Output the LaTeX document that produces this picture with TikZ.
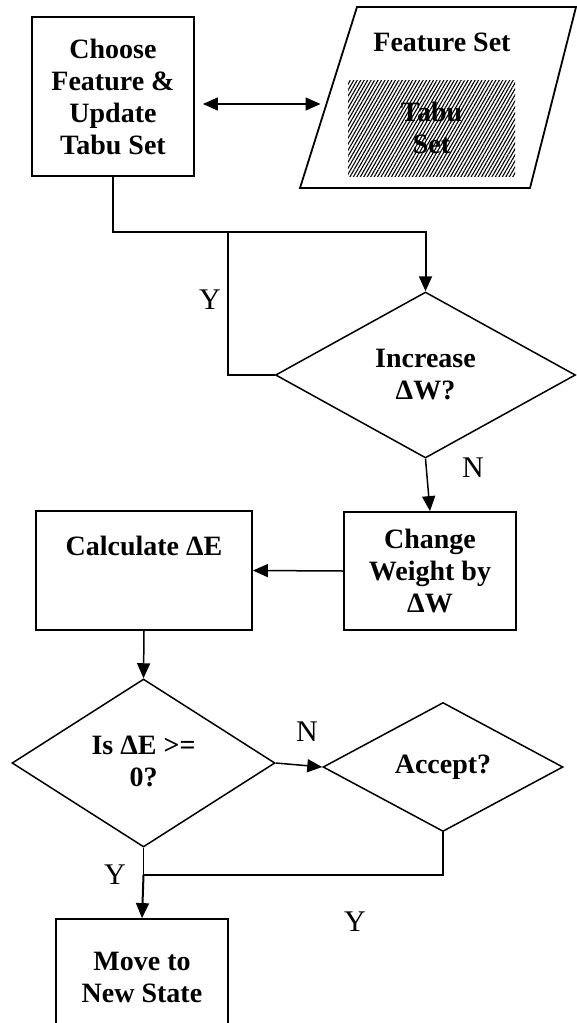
\documentclass[tikz,border=0pt]{standalone}
\usepackage{fontspec}
\setmainfont{Liberation Serif}
\usetikzlibrary{shapes.geometric,arrows.meta,patterns.meta}
\begin{document}
\begin{tikzpicture}[x=1pt,y=-1pt,
  bfont/.style={font=\fontsize{28}{32}\selectfont\bfseries},
  box/.style={draw,line width=1.8pt,rectangle,inner sep=0pt,align=center,bfont},
  dec/.style={draw,line width=1.5pt,diamond,inner sep=0pt,align=center,bfont},
  conn/.style={line width=1.5pt},
  tip/.style={-{Triangle[length=15pt,width=13pt]}},
  arr/.style={conn,tip},
  lbl/.style={font=\fontsize{30}{34}\selectfont,inner sep=0pt}]
\clip (0,0) rectangle (577,1023);
\fill[white] (0,0) rectangle (577,1023);

% top row
\node[box,minimum width=162pt,minimum height=159pt] (choose) at (113,96.5) {Choose\\Feature \&\\Update\\Tabu Set};
\draw[line width=1.8pt] (357,7) coordinate (p1) -- (576,7) coordinate (p2) -- (530,188) coordinate (p3) -- (300,188) coordinate (p4) -- cycle;
\coordinate (pleft) at (326.5,104);
\node[bfont,inner sep=0pt] (fs) at (442,42) {Feature Set};
\node[pattern={Lines[angle=60,distance=3pt,line width=1.1pt]},minimum width=167pt,minimum height=96pt,inner sep=0pt,align=center,bfont] (tabu) at (431.5,128) {Tabu\\Set};
\draw[conn,{Triangle[length=15pt,width=13pt]}-{Triangle[length=15pt,width=13pt]},shorten <=8pt,shorten >=6pt] (choose.east |- pleft) -- (pleft);

% increase diamond
\node[dec,minimum width=300pt,minimum height=166pt] (inc) at (425.5,375) {Increase\\ΔW?};
\coordinate (j1) at (113,232);
\coordinate (j2) at (228,232);
\draw[line width=2pt,tip] (choose.south) -- (j1) -| (inc.north);
\draw[conn] (inc.west) -| (j2);
\node[lbl] (y1) at (210,300) {Y};

% change / calculate
\node[box,minimum width=172pt,minimum height=118pt] (chg) at (430,571) {Change\\Weight by\\ΔW};
\node[box,minimum width=216pt,minimum height=119pt] (calc) at (144,570.5) {Calculate ΔE\\[18pt]\mbox{}};
\draw[arr] (inc.south) -- (chg.north);
\node[lbl] (n1) at (473,468) {N};
\draw[arr] (chg.west) -- (calc.east);

% is dE diamond and accept
\node[dec,minimum width=263pt,minimum height=168pt] (ise) at (143.5,763) {\mbox{}\\[-16pt]Is ΔE >=\\0?};
\node[dec,minimum width=240pt,minimum height=129pt] (acc) at (443,767) {Accept?};
\draw[arr] (calc.south) -- (ise.north);
\draw[arr] (ise.east) -- (acc.west);
\node[lbl] (n2) at (307,732) {N};

% move
\node[box,minimum width=172pt,minimum height=116pt] (move) at (142,977) {Move to\\New State};
\coordinate (j3) at (143.5,875);
\draw[conn] (ise.south) -- (j3);
\draw[conn] (acc.south) |- (j3);
\draw[line width=2pt,tip] (j3) -- (move.north);
\node[lbl] (y2) at (115,875) {Y};
\node[lbl] (y3) at (355,922) {Y};
\end{tikzpicture}
\end{document}
